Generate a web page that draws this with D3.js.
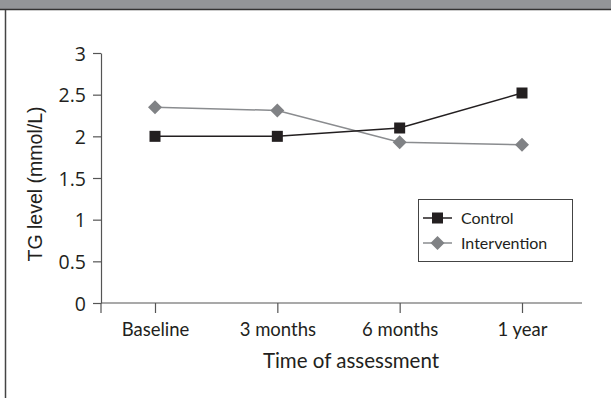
<!DOCTYPE html>
<html><head><meta charset="utf-8">
<script src="https://cdn.jsdelivr.net/npm/d3@7"></script>
<style>body{margin:0;background:#fff}svg{display:block}</style>
</head><body>
<script>
const categories = ["Baseline", "3 months", "6 months", "1 year"];
const controlValues = [2.0, 2.0, 2.1, 2.52];
const interventionValues = [2.35, 2.31, 1.93, 1.90];
const yTicks = [0, 0.5, 1, 1.5, 2, 2.5, 3];
const seriesNames = ["Control", "Intervention"];

const W = 611, H = 398;
const svg = d3.select("body").append("svg").attr("width", W).attr("height", H);

// header bar & frame
svg.append("rect").attr("x",0).attr("y",0).attr("width",W).attr("height",9).attr("fill","#939598");
svg.append("line").attr("x1",0).attr("x2",W).attr("y1",9.5).attr("y2",9.5).attr("stroke","#333").attr("stroke-width",1.5);
svg.append("line").attr("x1",5.5).attr("x2",5.5).attr("y1",10).attr("y2",H).attr("stroke","#444").attr("stroke-width",1.5);

const x0 = 101, x1 = 582, yTop = 53, yBot = 303;
const x = d3.scalePoint().domain(categories).range([155, 522]);
const y = d3.scaleLinear().domain([0, 3]).range([yBot, yTop]);

const axisColor = "#555";
// y axis
const ya = svg.append("g").attr("transform", `translate(${x0},0)`)
  .call(d3.axisLeft(y).tickValues(yTicks).tickFormat(d3.format("")).tickSize(8).tickSizeOuter(0));
ya.attr("font-size", null).attr("font-family", null);
ya.select(".domain").attr("stroke", axisColor).attr("stroke-width",1.2);
ya.selectAll(".tick line").attr("stroke", axisColor).attr("stroke-width",1.2);
ya.selectAll(".tick text").style("font-family","'Open Sans', sans-serif").style("font-size","19.5px").attr("fill","#231f20").attr("x",-15).attr("dy","0.36em");

// x axis
const xa = svg.append("g").attr("transform", `translate(0,${yBot})`)
  .call(d3.axisBottom(x).tickSize(10).tickSizeOuter(0));
xa.attr("font-size", null).attr("font-family", null);
xa.select(".domain").attr("d", `M${x0},0H${x1}`).attr("stroke", axisColor).attr("stroke-width",1.2);
xa.selectAll(".tick line").attr("stroke", axisColor).attr("stroke-width",1.2);
xa.selectAll(".tick text").style("font-family","Lato, sans-serif").style("font-size","18.5px").attr("fill","#231f20").attr("y",20).attr("dy","0.71em");
xa.append("line").attr("x1",x0).attr("x2",x0).attr("y1",0).attr("y2",10).attr("stroke",axisColor).attr("stroke-width",1.2);

// titles
svg.append("text").attr("x", 351).attr("y", 368).attr("text-anchor","middle")
  .style("font-family","Lato, sans-serif").style("font-size","20.5px").attr("fill","#231f20").text("Time of assessment");
svg.append("text").attr("transform",`translate(42,${(yTop+yBot)/2 + 6}) rotate(-90)`).attr("text-anchor","middle")
  .style("font-family","'Liberation Sans', Arial, sans-serif").style("font-size","19.5px").attr("fill","#231f20").text("TG level (mmol/L)");

const series = [
  {name: seriesNames[0], values: controlValues, line: "#231f20", fill: "#231f20", shape: "square"},
  {name: seriesNames[1], values: interventionValues, line: "#8a8c8f", fill: "#808285", shape: "diamond"}
];
const line = d3.line().x((d,i)=>x(categories[i])).y(d=>y(d));
function marker(g, s, cx, cy){
  if (s.shape === "square") {
    g.append("rect").attr("x",cx-5.5).attr("y",cy-5.5).attr("width",11).attr("height",11).attr("fill",s.fill);
  } else {
    const r = 7;
    g.append("path").attr("d",`M${cx},${cy-r}L${cx+r},${cy}L${cx},${cy+r}L${cx-r},${cy}Z`).attr("fill",s.fill);
  }
}
[series[1], series[0]].forEach(s => {
  const g = svg.append("g");
  g.append("path").attr("d", line(s.values)).attr("fill","none").attr("stroke",s.line).attr("stroke-width",1.5);
  s.values.forEach((v,i)=> marker(g, s, x(categories[i]), y(v)));
});

// legend
const lg = svg.append("g");
lg.append("rect").attr("x",418.5).attr("y",199.5).attr("width",154).attr("height",62).attr("fill","#fff").attr("stroke","#444").attr("stroke-width",1);
series.forEach((s,i)=>{
  const cy = 218 + i*25;
  lg.append("line").attr("x1",423).attr("x2",452).attr("y1",cy).attr("y2",cy).attr("stroke",s.line).attr("stroke-width",1.5);
  marker(lg, s, 437.5, cy);
  lg.append("text").attr("x",461).attr("y",cy+5.5).style("font-family","Lato, sans-serif").style("font-size","16px").attr("fill","#231f20").text(s.name);
});
</script>
</body></html>
